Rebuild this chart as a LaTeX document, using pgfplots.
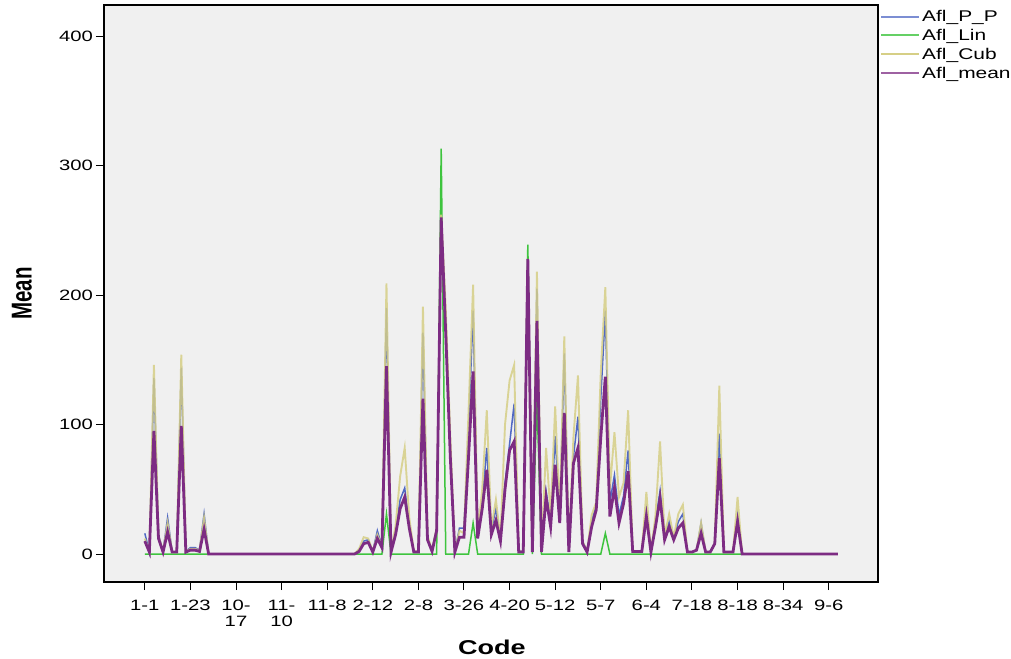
\documentclass[border=0pt]{standalone}
\usepackage{pgfplots}
\pgfplotsset{compat=1.18}
\usepackage{pgfplotstable}
\usepackage{fontspec}
\setmainfont{Liberation Sans}[FakeStretch=1.35]
\newfontfamily\plainfont{Liberation Sans}
\definecolor{cPP}{HTML}{5068C4}
\definecolor{cLin}{HTML}{3EC43E}
\definecolor{cCub}{HTML}{D6CF86}
\definecolor{cMean}{HTML}{7D2C83}
\definecolor{bgGray}{HTML}{F0F0F0}

\pgfplotstableread{
i pp lin cub mean
0 16 0 12 10
1 1.5 0 1.5 1.5
2 136 0 146 95
3 15 0 14 12
4 2 0 2 1.5
5 28 0 24 17
6 1.5 0 1.5 1.5
7 1.5 0 1.5 1.5
8 144 0 154 99
9 2 0 2 1.5
10 5 0 4 3
11 5 0 4 3
12 3 0 3 2
13 31 0 28 19
14 0 0 0 0
46 0 0 0 0
47 3 0 4 2
48 10 0 13 8
49 11 0 12 9
50 2 0 2 1.5
51 18 0 15 12
52 6 0 6 5
53 190 31 209 145
54 2 0 2 1.5
55 18 0 22 15
56 42 0 60 35
57 51 0 82 44
58 22 0 28 20
59 2 0 2 1.5
60 2 0 2 1.5
61 171 0 191 120
62 12 0 14 11
63 3 0 3 2
64 20 0 20 18
65 258 313 262 260
66 180 0 190 170
67 80 0 90 75
68 2 0 2 1.5
69 20 0 18 13
70 20 0 16 13
71 95 0 110 75
72 188 24 208 141
73 15 0 16 12
74 40 0 50 35
75 82 0 111 65
76 18 0 20 15
77 35 0 42 26
78 12 0 12 10
79 55 0 100 50
80 85 0 134 80
81 116 0 146 87
82 2 0 2 1.5
83 2 0 2 1.5
84 228 239 228 228
85 2 0 2 1.5
86 205 120 218 180
87 2 0 2 1.5
88 49 0 82 44
89 25 0 30 21
90 91 0 114 69
91 28 0 30 24
92 155 0 168 109
93 2 0 2 1.5
94 75 0 90 70
95 106 0 138 82
96 10 0 10 8
97 2 0 2 1.5
98 25 0 30 21
99 38 0 40 34
100 120 0 140 90
101 188 16 206 137
102 40 0 50 29
103 61 0 94 51
104 30 0 44 24
105 45 0 55 39
106 80 0 111 64
107 2 0 2 2
108 2 0 2 2
109 2 0 2 2
110 34 0 48 29
111 1.5 0 1.5 1.5
112 25 0 30 21
113 49 0 87 43
114 13 0 14 11
115 25 0 31 21
116 12 0 13 11
117 25 0 31 20
118 31 0 38 24
119 1.5 0 1.5 1.5
120 1.5 0 1.5 1.5
121 3 0 3 3
122 24 0 24 16
123 1.5 0 1.5 1.5
124 1.5 0 1.5 1.5
125 8 0 8 8
126 93 0 130 74
127 1.5 0 1.5 1.5
128 1.5 0 1.5 1.5
129 1.5 0 1.5 1.5
130 30 0 44 25
131 0 0 0 0
152 0 0 0 0
}\datatable

\begin{document}
\begin{tikzpicture}[x=1pt,y=1pt]
\useasboundingbox (0pt,0pt) rectangle (1011pt,658pt);
\begin{axis}[
  at={(104pt,76pt)}, anchor=south west,
  scale only axis, width=774pt, height=577pt,
  xmin=-8.95, xmax=160.8, ymin=-21.6, ymax=424,
  axis background/.style={fill=bgGray},
  axis line style={black, line width=1.3pt},
  tick pos=left,
  tick align=outside,
  major tick length=8pt,
  tick style={black, line width=1pt},
  xtick={0,10,...,150},
  xticklabels={1-1,1-23,{10-\\17},{11-\\10},11-8,2-12,2-8,3-26,4-20,5-12,5-7,6-4,7-18,8-18,8-34,9-6},
  xticklabel style={align=center, font=\fontsize{15}{16}\selectfont, inner sep=2pt, yshift=-8pt},
  ytick={0,100,200,300,400},
  yticklabel style={font=\fontsize{15}{16}\selectfont, inner sep=3pt},
  /pgf/number format/assume math mode=true,
  xlabel={\fontsize{20}{22}\selectfont\bfseries Code},
  xlabel style={at={(axis description cs:0.501,-0.114)}, anchor=center},
  ylabel={\scalebox{1}[1.4]{\plainfont\fontsize{20.5}{22}\selectfont\bfseries Mean}},
  ylabel style={at={(axis description cs:-0.106,0.5)}, anchor=center},
  legend style={at={(axis description cs:1,1)}, anchor=north west, draw=none, fill=none,
    font=\fontsize{15.5}{16}\selectfont, inner xsep=2pt, inner ysep=3pt, row sep=2.2pt,
    nodes={inner sep=2pt}},
  legend cell align=left,
]
\addplot[cPP, line width=1.5pt, forget plot] table[x=i, y=pp] {\datatable};
\addplot[cLin, line width=1.5pt, forget plot] table[x=i, y=lin] {\datatable};
\addplot[cCub, line width=1.9pt, opacity=0.85, forget plot] table[x=i, y=cub] {\datatable};
\addplot[cMean, line width=2.8pt, forget plot] table[x=i, y=mean] {\datatable};
\addlegendimage{legend image code/.code={\draw[cPP!75, line width=2pt] (0pt,0pt) -- (38pt,0pt);}}
\addlegendentry{Afl\_P\_P}
\addlegendimage{legend image code/.code={\draw[cLin!80, line width=2pt] (0pt,0pt) -- (38pt,0pt);}}
\addlegendentry{Afl\_Lin}
\addlegendimage{legend image code/.code={\draw[cCub, line width=2pt] (0pt,0pt) -- (38pt,0pt);}}
\addlegendentry{Afl\_Cub}
\addlegendimage{legend image code/.code={\draw[cMean!75, line width=2pt] (0pt,0pt) -- (38pt,0pt);}}
\addlegendentry{Afl\_mean}
\end{axis}
\end{tikzpicture}
\end{document}
